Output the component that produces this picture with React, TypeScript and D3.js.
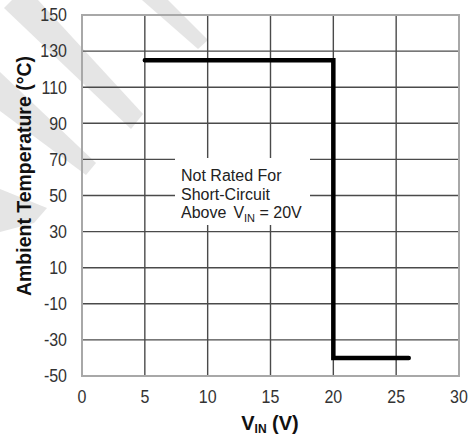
import React from "react";
import * as d3 from "d3";

const xTicks = [0, 5, 10, 15, 20, 25, 30];
const yTicks = [150, 130, 110, 90, 70, 50, 30, 10, -10, -30, -50];
const vinValues = [5, 20, 20, 26];
const tempValues = [125, 125, -40, -40];
const noteLines = ["Not Rated For", "Short-Circuit"];

const W = 471;
const H = 439;
const M = { left: 82, right: 459, top: 15, bottom: 376 };

// decorative watermark strokes (pixel shapes)
const watermark: [number, number][][] = [
  [[12, 0], [38, 0], [143, 114], [131, 129], [4, 8]],
  [[142, 0], [168, 0], [208, 40], [198, 49]],
  [[0, 72], [96, 163], [86, 175], [0, 111]],
  [[0, 189], [47, 208], [34, 223], [0, 232]],
];

export default function App() {
  const x = d3.scaleLinear().domain([0, 30]).range([M.left, M.right]);
  const y = d3.scaleLinear().domain([-50, 150]).range([M.bottom, M.top]);
  const pts = vinValues.map((v, i) => [x(v), y(tempValues[i])] as [number, number]);
  const line = d3.line()(pts) || "";
  const font = "'Liberation Sans', Arial, sans-serif";

  return (
    <svg width={W} height={H} style={{ position: "absolute", left: 0, top: 0 }} fontFamily={font}>
      <rect x={0} y={0} width={W} height={H} fill="#fff" />
      {watermark.map((p, i) => (
        <polygon key={i} points={p.map((q) => q.join(",")).join(" ")} fill="#e5e5e5" />
      ))}
      {xTicks.slice(1, -1).map((t) => (
        <line key={"gx" + t} x1={x(t)} x2={x(t)} y1={M.top} y2={M.bottom} stroke="#4a4a4a" strokeWidth={1.4} />
      ))}
      {yTicks.slice(1, -1).map((t) => (
        <line key={"gy" + t} x1={M.left} x2={M.right} y1={y(t)} y2={y(t)} stroke="#4a4a4a" strokeWidth={1.4} />
      ))}
      <rect x={M.left} y={M.top} width={M.right - M.left} height={M.bottom - M.top} fill="none" stroke="#a8a8a8" strokeWidth={2} />
      <rect x={175} y={158} width={135} height={67} fill="#fff" />
      <text x={181} y={181} fontSize={16} fill="#222">{noteLines[0]}</text>
      <text x={181} y={199.5} fontSize={16} fill="#222">{noteLines[1]}</text>
      <text x={181} y={218} fontSize={16} fill="#222">
        Above
        <tspan dx={7}>V</tspan>
        <tspan fontSize={11} dy={4}>IN</tspan>
        <tspan dy={-4}> = 20V</tspan>
      </text>
      <path d={line} fill="none" stroke="#000" strokeWidth={4.5} strokeLinejoin="miter" strokeLinecap="round" />
      {yTicks.map((t) => (
        <text key={"ty" + t} transform={`translate(67,${y(t)}) scale(1,1.1)`} dy="0.36em" textAnchor="end" fontSize={16} fill="#333">{t}</text>
      ))}
      {xTicks.map((t) => (
        <text key={"tx" + t} transform={`translate(${x(t)},403) scale(1,1.1)`} textAnchor="middle" fontSize={16} fill="#333">{t}</text>
      ))}
      <text transform={`translate(31,176) rotate(-90)`} textAnchor="middle" fontSize={20} fontWeight="bold" fill="#111" textLength={240} lengthAdjust="spacingAndGlyphs">
        Ambient Temperature (°C)
      </text>
      <text x={270} y={430} textAnchor="middle" fontSize={20} fontWeight="bold" fill="#111">
        V<tspan fontSize={12} dy={3}>IN</tspan><tspan dy={-3}> (V)</tspan>
      </text>
    </svg>
  );
}
